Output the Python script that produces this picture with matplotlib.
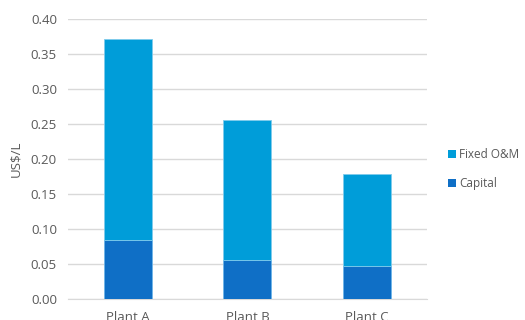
import matplotlib
matplotlib.use("Agg")
import matplotlib.pyplot as plt
from matplotlib.patches import Patch

plants = ["Plant A", "Plant B", "Plant C"]
capital = [0.084, 0.055, 0.046]
fixed_om = [0.287, 0.200, 0.133]
y_ticks = [0.00, 0.05, 0.10, 0.15, 0.20, 0.25, 0.30, 0.35, 0.40]

c_capital = "#0F6FC6"
c_fixed = "#009DD9"
grid_c = "#D9D9D9"
text_c = "#595959"

plt.rcParams["font.family"] = ["Open Sans", "DejaVu Sans"]

fig = plt.figure(figsize=(5.25, 3.2), dpi=100)
ax = fig.add_axes([0.1295, 0.067, 0.6835, 0.873])

x = list(range(len(plants)))
ax.bar(x, capital, width=0.4, color=c_capital, edgecolor="#6FB5E8", linewidth=0.6, zorder=3)
ax.bar(x, fixed_om, width=0.4, bottom=capital, color=c_fixed, edgecolor="#7FCBEC", linewidth=0.6, zorder=3)

ax.set_xlim(-0.5, 2.5)
ax.set_ylim(0, 0.40)
ax.set_yticks(y_ticks)
ax.set_yticklabels([f"{v:.2f}" for v in y_ticks])
ax.set_xticks(x)
ax.set_xticklabels(plants)
ax.yaxis.grid(True, color=grid_c, linewidth=1.0, zorder=0)
ax.set_axisbelow(True)
for s in ["top", "right", "left"]:
    ax.spines[s].set_visible(False)
ax.spines["bottom"].set_color(grid_c)
ax.tick_params(axis="both", length=0, colors=text_c, labelsize=9.5)
ax.tick_params(axis="y", pad=8)
ax.tick_params(axis="x", pad=9)
ax.set_ylabel("US$/L", color=text_c, fontsize=9.5, labelpad=6)

handles = [Patch(facecolor=c_fixed, label="Fixed O&M"),
           Patch(facecolor=c_capital, label="Capital")]
fig.legend(handles=handles, loc="center left", bbox_to_anchor=(0.853, 0.472),
           frameon=False, fontsize=8.5, handlelength=0.7, handleheight=0.7,
           handletextpad=0.25, labelspacing=1.35, labelcolor=text_c, borderpad=0,
           borderaxespad=0)

fig.savefig("out.png", dpi=100)
